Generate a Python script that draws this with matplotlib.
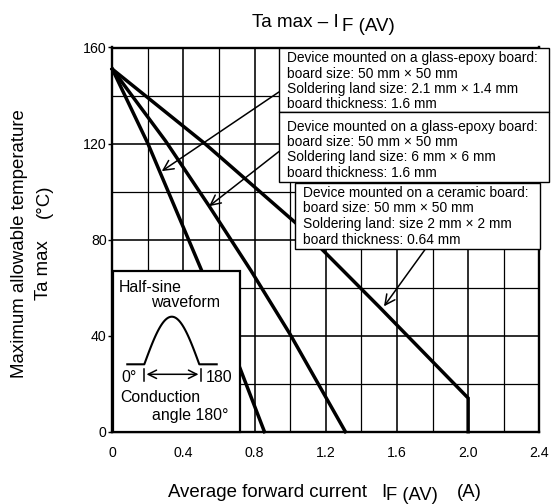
import numpy as np
import matplotlib
matplotlib.use('Agg')
import matplotlib.pyplot as plt
from matplotlib.patches import Rectangle

plt.rcParams['font.family'] = ['Liberation Sans', 'DejaVu Sans']

# ---- data ----
line1_x = [0, 0.2, 0.5, 0.72, 0.855]
line1_y = [151, 120, 67.5, 26, 0]
line2_x = [0, 0.3, 0.544, 0.78, 1.0, 1.31]
line2_y = [151, 121, 94, 67, 40.5, 0]
line3_x = [0, 0.52, 1.03, 1.5, 2.0, 2.0]
line3_y = [151, 120, 87, 52, 14, 0]

x_ticks = [0, 0.4, 0.8, 1.2, 1.6, 2.0, 2.4]
x_ticklabels = ['0', '0.4', '0.8', '1.2', '1.6', '2.0', '2.4']
x_minor = [0.2, 0.6, 1.0, 1.4, 1.8, 2.2]
y_ticks = [0, 40, 80, 120, 160]
y_ticklabels = ['0', '40', '80', '120', '160']
y_minor = [20, 60, 100, 140]

box1_lines = ['Device mounted on a glass-epoxy board:',
              'board size: 50 mm \u00d7 50 mm',
              'Soldering land size: 2.1 mm \u00d7 1.4 mm',
              'board thickness: 1.6 mm']
box2_lines = ['Device mounted on a glass-epoxy board:',
              'board size: 50 mm \u00d7 50 mm',
              'Soldering land size: 6 mm \u00d7 6 mm',
              'board thickness: 1.6 mm']
box3_lines = ['Device mounted on a ceramic board:',
              'board size: 50 mm \u00d7 50 mm',
              'Soldering land: size 2 mm \u00d7 2 mm',
              'board thickness: 0.64 mm']

# arrows: (tail, head) in data coordinates
arrow1 = ((0.937, 141.5), (0.278, 108.5))
arrow2 = ((0.937, 116.7), (0.544, 93.9))
arrow3 = ((1.762, 76.3), (1.527, 52.2))

W, H = 553, 504
fig = plt.figure(figsize=(W / 100, H / 100), dpi=100)
fig.patch.set_facecolor('white')

L, R, TOP, BOT = 112.3, 539.3, 47.5, 431.7
ax = fig.add_axes([L / W, (H - BOT) / H, (R - L) / W, (BOT - TOP) / H])
ax.set_xlim(0, 2.4)
ax.set_ylim(0, 160)
ax.set_xticks(x_ticks)
ax.set_xticklabels(x_ticklabels)
ax.set_xticks(x_minor, minor=True)
ax.set_yticks(y_ticks)
ax.set_yticklabels(y_ticklabels)
ax.set_yticks(y_minor, minor=True)
ax.grid(True, which='major', color='black', lw=1.15)
ax.grid(True, which='minor', color='black', lw=0.9)
ax.set_axisbelow(True)
for s in ax.spines.values():
    s.set_linewidth(1.7)
    s.set_color('black')
ax.tick_params(axis='x', which='both', length=0, pad=10.5, labelsize=10.2)
ax.tick_params(axis='y', which='major', length=3, width=1, pad=1, labelsize=10.2, direction='out')
ax.tick_params(axis='y', which='minor', length=0)

for xs, ys in [(line1_x, line1_y), (line2_x, line2_y), (line3_x, line3_y)]:
    ax.plot(xs, ys, color='black', lw=2.5, solid_joinstyle='miter', zorder=3, clip_on=False)

for tail, head in [arrow1, arrow2, arrow3]:
    ax.annotate('', xy=head, xytext=tail, annotation_clip=False, zorder=4,
                arrowprops=dict(arrowstyle='->,head_length=0.6,head_width=0.3',
                                lw=1.1, color='black', shrinkA=0, shrinkB=0,
                                mutation_scale=12))

# ---- overlay in pixel coordinates for boxes and texts ----
ov = fig.add_axes([0, 0, 1, 1], zorder=5)
ov.set_xlim(0, W)
ov.set_ylim(H, 0)
ov.axis('off')
ov.patch.set_alpha(0)


def T(x, y, s, size, **kw):
    ov.text(x, y, s, fontsize=size, va='baseline', ha='left', color='black', **kw)


# title
T(251.7, 27.3, 'Ta max \u2013 I', 13.5)
T(341.7, 31.0, 'F (AV)', 13.5)

# x label
T(168, 496.7, 'Average forward current', 13.4)
T(381, 496.7, 'I', 13.4)
T(385.5, 500.0, 'F (AV)', 13.2)
T(457, 496.7, '(A)', 13.4)

# y label
ov.text(20, 244, 'Maximum allowable temperature', rotation=90, ha='center',
        va='center', fontsize=13.4)
ov.text(44, 270, 'Ta max', rotation=90, ha='center', va='center', fontsize=13.4)
ov.text(44, 201.7, '(\u00b0C)', rotation=90, ha='center', va='center', fontsize=13.4)

# annotation boxes
ov.add_patch(Rectangle((279, TOP), 270, 112.3 - TOP, fc='white', ec='black', lw=1.0))
ov.add_patch(Rectangle((279, 112.3), 270, 69.4, fc='white', ec='black', lw=1.0))
ov.add_patch(Rectangle((295, 182.5), 245, 66.5, fc='white', ec='black', lw=1.0))
for lines, x0, bases in [(box1_lines, 287.3, [62, 77.5, 93, 108.5]),
                         (box2_lines, 287.3, [130.5, 146, 161.5, 177]),
                         (box3_lines, 303.3, [197, 212.5, 228, 243.5])]:
    for s, b in zip(lines, bases):
        T(x0, b, s, 9.9)

# inset: half-sine waveform
ov.add_patch(Rectangle((113.3, 271), 126.7, BOT - 271, fc='white', ec='black', lw=1.6))
T(119, 291.7, 'Half-sine', 11.4)
T(150.7, 306.7, 'waveform', 11.4)
T(121.7, 381.7, '0\u00b0', 11.4)
T(206, 381.7, '180', 11.4)
T(120.7, 401.7, 'Conduction', 11.4)
T(151.7, 420, 'angle 180\u00b0', 11.4)
t = np.linspace(0, 1, 80)
sx = np.concatenate([[127.3], 144.3 + 55 * t, [216.7]])
sy = np.concatenate([[364.3], 364.3 - 47.6 * np.sin(np.pi * t), [364.3]])
ov.plot(sx, sy, color='black', lw=1.5)
ov.plot([144.3, 144.3], [369.3, 380.7], color='black', lw=1.1)
ov.plot([200.7, 200.7], [369.3, 380.7], color='black', lw=1.1)
ov.annotate('', xy=(198.5, 374.3), xytext=(146.5, 374.3),
            arrowprops=dict(arrowstyle='<->,head_length=0.6,head_width=0.3', lw=1.1,
                            color='black', shrinkA=0, shrinkB=0, mutation_scale=10))

fig.savefig('out.png', dpi=100, facecolor='white')
